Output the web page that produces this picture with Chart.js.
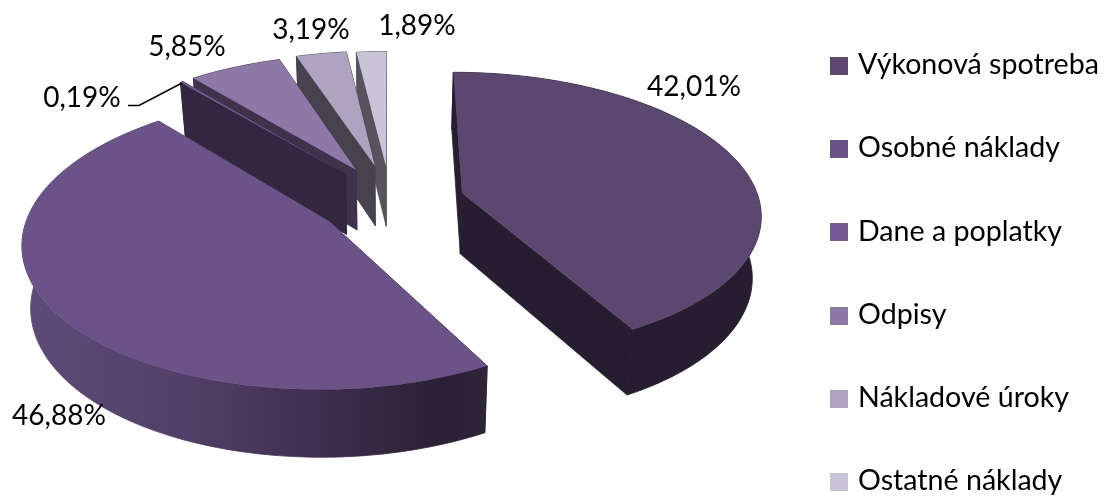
<!DOCTYPE html>
<html>
<head>
<meta charset="utf-8">
<title>Nákladová štruktúra</title>
<script src="https://cdn.jsdelivr.net/npm/chart.js@4"></script>
<style>
  html, body { margin: 0; background: #fff; }
  canvas { display: block; }
</style>
</head>
<body>
<canvas id="costChart" width="1111" height="497"></canvas>
<script>
const categories = ['Výkonová spotreba', 'Osobné náklady', 'Dane a poplatky', 'Odpisy', 'Nákladové úroky', 'Ostatné náklady'];
const shares = [42.01, 46.88, 0.19, 5.85, 3.19, 1.89];

const topColors = ['#5c4770', '#6b5388', '#785a94', '#8d78a8', '#aea3c0', '#cac4d8'];
const wallColors = ['#261d30', null, '#33263f', '#3f324d', '#46424e', '#575460'];

// explode shift of each slice on the pie plane, in radii
const shiftU = [0.2475, -0.197, -0.15, -0.114, -0.049, -0.01];
const shiftV = [-0.05, 0.15, -0.19, -0.222, -0.253, -0.25];

// far slices get painted first so the near ones cover them
const paintOrder = [5, 4, 3, 2, 1, 0];

const labelSpots = [[694, 87], [59, 416], [82, 98], [187, 47], [311, 30], [417, 26]];
const fontFamily = 'Lato, "Open Sans", sans-serif';

// camera for the tilted pie
const view = { cx: 389, cy: 200, radius: 297, tilt: 0.468, persp: 0.136, drop: 61, shrink: 0.024 };

function project(u, v, z) {
  const w = 1 - view.persp * v;
  const s = 1 - view.shrink * z;
  return {
    x: view.cx + s * view.radius * u / w,
    y: view.cy + (s * view.radius * view.tilt * v + view.drop * z) / w
  };
}

function rimPoints(i, start, end, z) {
  const steps = Math.max(2, Math.ceil((end - start) / 0.03));
  const pts = [];
  for (let k = 0; k <= steps; k++) {
    const t = start + (end - start) * k / steps;
    pts.push(project(Math.sin(t) + shiftU[i], -Math.cos(t) + shiftV[i], z));
  }
  return pts;
}

function fillPoly(ctx, pts, color, seal) {
  ctx.beginPath();
  pts.forEach((p, n) => n ? ctx.lineTo(p.x, p.y) : ctx.moveTo(p.x, p.y));
  ctx.closePath();
  ctx.fillStyle = color;
  ctx.fill();
  // walls share edges, a thin stroke hides the light seams
  if (seal) {
    ctx.strokeStyle = color;
    ctx.lineWidth = 0.8;
    ctx.stroke();
  }
}

function wallPaint(ctx, i) {
  if (wallColors[i]) return wallColors[i];
  const grad = ctx.createLinearGradient(20, 0, 486, 0);
  grad.addColorStop(0, '#5f4b78');
  grad.addColorStop(0.35, '#524068');
  grad.addColorStop(0.65, '#3f2e4e');
  grad.addColorStop(0.9, '#2a2035');
  grad.addColorStop(1, '#2f2539');
  return grad;
}

function drawSlice(ctx, i, arc) {
  const start = arc.startAngle + Math.PI / 2;
  const end = arc.endAngle + Math.PI / 2;
  const apexTop = project(shiftU[i], shiftV[i], 0);
  const apexLow = project(shiftU[i], shiftV[i], 1);
  const rimTop = rimPoints(i, start, end, 0);
  const rimLow = rimPoints(i, start, end, 1);
  const paint = wallPaint(ctx, i);

  fillPoly(ctx, [apexTop, rimTop[0], rimLow[0], apexLow], paint, true);
  fillPoly(ctx, [apexTop, rimTop[rimTop.length - 1], rimLow[rimLow.length - 1], apexLow], paint, true);
  fillPoly(ctx, rimTop.concat(rimLow.slice().reverse()), paint, true);
  fillPoly(ctx, [apexTop].concat(rimTop), arc.options.backgroundColor);
}

const tiltedPie = {
  id: 'tiltedPie',
  beforeDatasetDraw() {
    return false;
  },
  afterDatasetsDraw(chart) {
    const ctx = chart.ctx;
    const arcs = chart.getDatasetMeta(0).data;
    ctx.save();
    paintOrder.forEach(i => drawSlice(ctx, i, arcs[i]));

    // leader line for the thinnest slice
    ctx.beginPath();
    ctx.moveTo(128, 105.5);
    ctx.lineTo(139, 105.5);
    ctx.lineTo(182, 83);
    ctx.strokeStyle = '#000';
    ctx.lineWidth = 1.5;
    ctx.stroke();

    ctx.fillStyle = '#000';
    ctx.font = '28px ' + fontFamily;
    ctx.textAlign = 'center';
    ctx.textBaseline = 'middle';
    shares.forEach((val, i) => {
      ctx.fillText(val.toFixed(2).replace('.', ',') + '%', labelSpots[i][0], labelSpots[i][1]);
    });
    ctx.restore();
  },
  afterDraw(chart) {
    const ctx = chart.ctx;
    const items = chart.options.plugins.legend.labels.generateLabels(chart);
    ctx.save();
    ctx.font = '28.6px ' + fontFamily;
    ctx.textAlign = 'left';
    ctx.textBaseline = 'middle';
    items.forEach((item, i) => {
      const y = 66 + i * 83.2;
      ctx.fillStyle = item.fillStyle;
      ctx.fillRect(830, Math.round(y) - 9, 18, 18);
      ctx.fillStyle = '#000';
      ctx.fillText(item.text, 858, y - 1);
    });
    ctx.restore();
  }
};

new Chart(document.getElementById('costChart'), {
  type: 'pie',
  data: {
    labels: categories,
    datasets: [{ data: shares, backgroundColor: topColors, borderWidth: 0 }]
  },
  options: {
    responsive: false,
    animation: false,
    plugins: {
      legend: { display: false },
      tooltip: { enabled: false }
    }
  },
  plugins: [tiltedPie]
});
</script>
</body>
</html>
